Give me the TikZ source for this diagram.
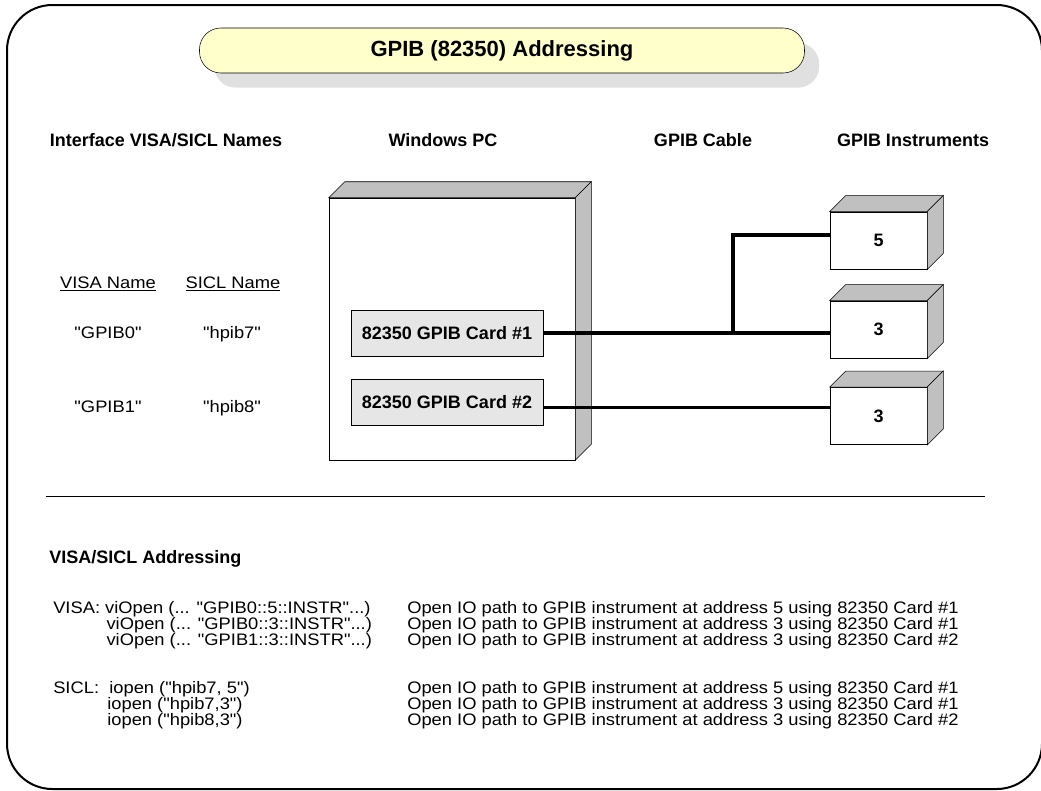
\documentclass[tikz,border=0pt]{standalone}
\usepackage{fontspec}
\setmainfont{Liberation Sans}[Ligatures=TeXOff]
\newfontfamily\widesans{Liberation Sans}[Ligatures=TeXOff,FakeStretch=1.1]
\usetikzlibrary{positioning,shadows}
\definecolor{pill}{HTML}{FFFFCC}
\definecolor{shade}{HTML}{E0E0E0}
\definecolor{side}{HTML}{C0C0C0}
\definecolor{cardfill}{HTML}{E6E6E6}
\tikzset{
txt/.style={inner sep=0pt,text height=9.5pt,text depth=1.5pt,font=\widesans\fontsize{12.5}{16}\selectfont},
hdr/.style={inner sep=0pt,font=\fontsize{13.5}{16}\selectfont\bfseries},
cardbox/.style={draw,fill=cardfill,minimum width=144pt,minimum height=34.5pt,inner sep=0pt,font=\fontsize{13.5}{16}\selectfont\bfseries},
instbox/.style={draw,fill=white,minimum width=72.75pt,minimum height=43pt,inner sep=0pt,font=\fontsize{13.5}{16}\selectfont\bfseries},
cable/.style={line width=2.6pt}
}
\begin{document}
\begin{tikzpicture}[x=0.75pt,y=-0.75pt]
\useasboundingbox (0,0) rectangle (1041,790);
\draw[line width=1.5pt,rounded corners=34pt] (7,5) rectangle (1042,789);
\node[draw,fill=pill,rounded corners=16pt,minimum width=453.75pt,minimum height=33.75pt,font=\fontsize{16.5}{20}\selectfont\bfseries,
 drop shadow={shadow xshift=11pt,shadow yshift=-11pt,fill=shade,opacity=1}] (title) at (502,50.5) {GPIB (82350) Addressing};
\node[hdr] (h1) at (166,140) {Interface VISA/SICL Names};\node[hdr] (h2) at (443,140) {Windows PC};
\node[hdr] (h3) at (703,140) {GPIB Cable};\node[hdr] (h4) at (913,140) {GPIB Instruments};
\node[draw,fill=white,minimum width=184.5pt,minimum height=196.5pt] (pc) at (452,329) {};
\node[cardbox] (c1) at (447,333) {82350 GPIB Card \#1};\node[cardbox] (c2) at (447,402) {82350 GPIB Card \#2};
\foreach \i/\v/\a in {1/240.5/5,2/329.5/3,3/416/3} {\node[instbox] (i\i) at (878.5,\v) {\a};}
\foreach \n/\d in {pc/16,i1/16,i2/16,i3/16} {
\draw[fill=side] (\n.north west) -- ([shift={(\d,-\d)}]\n.north west) -- ([shift={(\d,-\d)}]\n.north east) -- (\n.north east) -- cycle;
\draw[fill=side] (\n.north east) -- ([shift={(\d,-\d)}]\n.north east) -- ([shift={(\d,-\d)}]\n.south east) -- (\n.south east) -- cycle;}
\coordinate (tap) at (733,333);
\draw[cable] (c1.east) -- (c1.east -| i2.west);
\draw[cable] (tap) |- ([yshift=4pt]i1.west);
\draw[cable] ([yshift=-4pt]c2.east) -- ([yshift=-4pt]c2.east -| i3.west);
\node[txt] (vn) at (108,283) {\underline{VISA Name}};\node[txt] (sn) at (233,283) {\underline{SICL Name}};
\node[txt] (v1) at (108,333) {"GPIB0"};\node[txt] (s1) at (232,333) {"hpib7"};
\node[txt] (v2) at (108,407) {"GPIB1"};\node[txt] (s2) at (232,407) {"hpib8"};
\draw[line width=0.75pt] (46,496) -- (985,496);
\node[hdr,anchor=west] (addr) at (49,559) {VISA/SICL Addressing};
\node[txt,anchor=west] (l1) at (53,608) {VISA: viOpen (... "GPIB0::5::INSTR"...)};
\node[txt,anchor=west] (l2) at (53,624) {\phantom{VISA: }\hspace{1pt}viOpen (... "GPIB0::3::INSTR"...)};
\node[txt,anchor=west] (l3) at (53,640) {\phantom{VISA: }\hspace{1pt}viOpen (... "GPIB1::3::INSTR"...)};
\node[txt,anchor=west] (l4) at (53,688) {SICL:\ \ iopen ("hpib7, 5")};
\node[txt,anchor=west] (l5) at (53,704) {\phantom{SICL:\ \ }\hspace{-1.5pt}iopen ("hpib7,3")};
\node[txt,anchor=west] (l6) at (53,720) {\phantom{SICL:\ \ }\hspace{-1.5pt}iopen ("hpib8,3")};
\foreach \y/\a/\c [count=\k] in {608/5/1,624/3/1,640/3/2,688/5/1,704/3/1,720/3/2} {
\node[txt,anchor=west] (r\k) at (407,\y) {Open IO path to GPIB instrument at address \a\ using 82350 Card \#\c};}
\end{tikzpicture}
\end{document}
